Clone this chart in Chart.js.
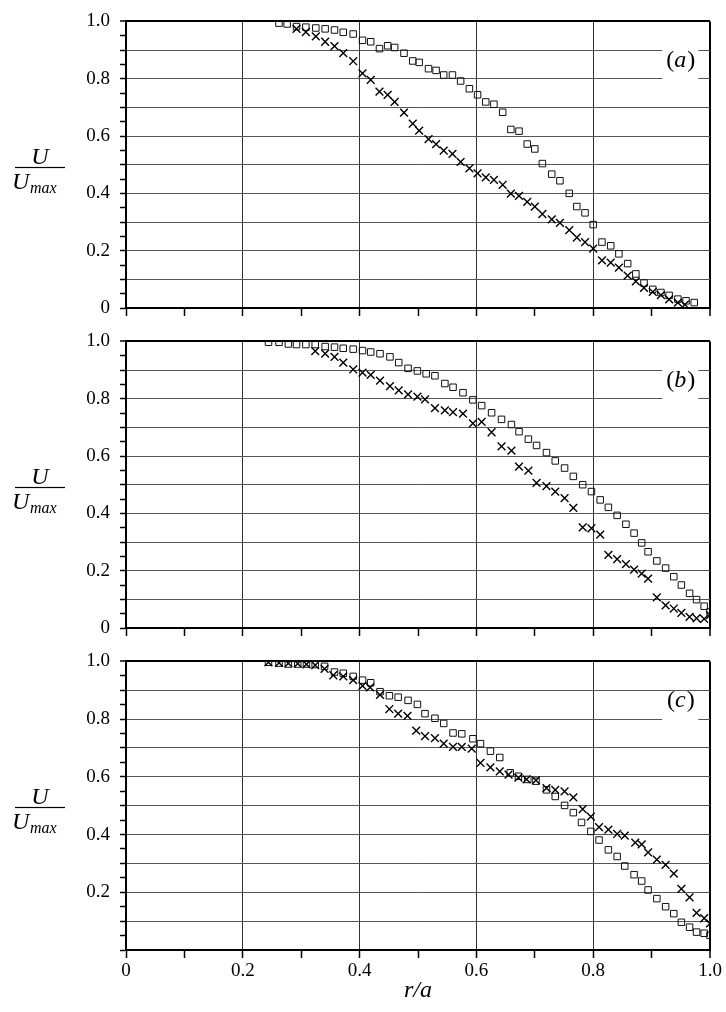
<!DOCTYPE html>
<html>
<head>
<meta charset="utf-8">
<script src="https://cdn.jsdelivr.net/npm/chart.js@4/dist/chart.umd.min.js"></script>
<style>
  body { margin: 0; background: #fff; width: 726px; height: 1012px; position: relative; overflow: hidden; }
  canvas { position: absolute; left: 0; }
</style>
</head>
<body>
<canvas id="panel-a" width="726" height="330" style="top:0px"></canvas>
<canvas id="panel-b" width="726" height="330" style="top:320px"></canvas>
<canvas id="panel-c" width="726" height="372" style="top:640px"></canvas>
<script>
// Velocity profiles U/Umax against r/a.
// Squares and crosses are the two measured series in each panel.

// (a)
const aSquareR = [0.262, 0.276, 0.292, 0.308, 0.325, 0.341, 0.357, 0.372, 0.389, 0.405, 0.419, 0.434, 0.448, 0.460, 0.476, 0.491, 0.502, 0.518, 0.531, 0.544, 0.559, 0.573, 0.588, 0.602, 0.616, 0.630, 0.645, 0.659, 0.673, 0.687, 0.700, 0.713, 0.729, 0.743, 0.759, 0.772, 0.786, 0.800, 0.815, 0.830, 0.844, 0.859, 0.873, 0.887, 0.902, 0.916, 0.930, 0.945, 0.959, 0.973];
const aSquareU = [0.994, 0.991, 0.982, 0.980, 0.977, 0.974, 0.970, 0.962, 0.956, 0.934, 0.929, 0.905, 0.915, 0.909, 0.889, 0.862, 0.857, 0.835, 0.829, 0.813, 0.813, 0.792, 0.765, 0.744, 0.719, 0.711, 0.683, 0.623, 0.617, 0.572, 0.555, 0.504, 0.467, 0.444, 0.400, 0.354, 0.332, 0.291, 0.230, 0.217, 0.189, 0.155, 0.119, 0.087, 0.065, 0.054, 0.044, 0.031, 0.025, 0.019];
const aCrossR = [0.292, 0.308, 0.325, 0.341, 0.357, 0.372, 0.389, 0.405, 0.419, 0.434, 0.448, 0.460, 0.476, 0.491, 0.502, 0.518, 0.531, 0.544, 0.559, 0.573, 0.588, 0.602, 0.616, 0.630, 0.645, 0.659, 0.673, 0.687, 0.700, 0.713, 0.729, 0.743, 0.759, 0.772, 0.786, 0.800, 0.815, 0.830, 0.844, 0.859, 0.873, 0.887, 0.902, 0.916, 0.930, 0.945, 0.957];
const aCrossU = [0.974, 0.963, 0.948, 0.929, 0.914, 0.889, 0.861, 0.819, 0.796, 0.755, 0.744, 0.719, 0.682, 0.643, 0.619, 0.589, 0.572, 0.549, 0.538, 0.510, 0.487, 0.470, 0.456, 0.447, 0.430, 0.399, 0.391, 0.370, 0.354, 0.328, 0.309, 0.297, 0.272, 0.246, 0.230, 0.207, 0.166, 0.158, 0.141, 0.113, 0.093, 0.070, 0.056, 0.045, 0.030, 0.019, 0.012];

// (b)
const bSquareR = [0.244, 0.262, 0.278, 0.292, 0.308, 0.324, 0.341, 0.357, 0.372, 0.389, 0.405, 0.419, 0.435, 0.452, 0.467, 0.483, 0.499, 0.514, 0.529, 0.546, 0.560, 0.577, 0.594, 0.609, 0.626, 0.643, 0.660, 0.673, 0.689, 0.703, 0.720, 0.735, 0.751, 0.766, 0.782, 0.797, 0.812, 0.826, 0.841, 0.856, 0.870, 0.883, 0.894, 0.909, 0.924, 0.938, 0.951, 0.965, 0.977, 0.990, 1.000];
const bSquareU = [0.997, 0.997, 0.991, 0.989, 0.989, 0.989, 0.982, 0.980, 0.976, 0.973, 0.968, 0.963, 0.957, 0.946, 0.926, 0.906, 0.897, 0.887, 0.880, 0.853, 0.840, 0.821, 0.796, 0.776, 0.751, 0.728, 0.710, 0.685, 0.659, 0.637, 0.612, 0.583, 0.558, 0.529, 0.500, 0.476, 0.447, 0.421, 0.393, 0.362, 0.331, 0.297, 0.266, 0.234, 0.209, 0.179, 0.150, 0.121, 0.099, 0.076, 0.056];
const bCrossR = [0.324, 0.341, 0.357, 0.372, 0.389, 0.405, 0.419, 0.435, 0.452, 0.467, 0.483, 0.499, 0.512, 0.529, 0.546, 0.560, 0.577, 0.594, 0.609, 0.626, 0.643, 0.660, 0.673, 0.689, 0.703, 0.720, 0.735, 0.751, 0.766, 0.782, 0.797, 0.812, 0.826, 0.841, 0.856, 0.870, 0.883, 0.894, 0.909, 0.924, 0.938, 0.951, 0.965, 0.977, 0.990, 1.000];
const bCrossU = [0.966, 0.957, 0.946, 0.926, 0.902, 0.891, 0.883, 0.863, 0.844, 0.829, 0.815, 0.807, 0.798, 0.767, 0.759, 0.753, 0.748, 0.714, 0.719, 0.683, 0.634, 0.619, 0.563, 0.549, 0.506, 0.495, 0.476, 0.453, 0.419, 0.351, 0.348, 0.326, 0.255, 0.240, 0.223, 0.204, 0.190, 0.172, 0.107, 0.079, 0.068, 0.053, 0.039, 0.034, 0.032, 0.045];

// (c)
const cSquareR = [0.244, 0.262, 0.278, 0.294, 0.309, 0.324, 0.340, 0.357, 0.372, 0.389, 0.405, 0.419, 0.435, 0.451, 0.466, 0.483, 0.499, 0.512, 0.529, 0.544, 0.560, 0.575, 0.594, 0.607, 0.624, 0.640, 0.658, 0.672, 0.688, 0.702, 0.720, 0.735, 0.751, 0.766, 0.780, 0.796, 0.810, 0.826, 0.841, 0.854, 0.870, 0.883, 0.894, 0.909, 0.924, 0.938, 0.951, 0.965, 0.977, 0.990, 1.000];
const cSquareU = [0.997, 0.994, 0.991, 0.991, 0.991, 0.989, 0.983, 0.963, 0.959, 0.948, 0.935, 0.926, 0.895, 0.881, 0.876, 0.865, 0.851, 0.819, 0.803, 0.785, 0.752, 0.749, 0.732, 0.715, 0.689, 0.667, 0.614, 0.602, 0.591, 0.585, 0.555, 0.532, 0.501, 0.476, 0.442, 0.411, 0.381, 0.347, 0.324, 0.291, 0.261, 0.239, 0.208, 0.178, 0.150, 0.126, 0.096, 0.079, 0.062, 0.058, 0.051];
const cCrossR = [0.244, 0.262, 0.278, 0.294, 0.309, 0.324, 0.340, 0.355, 0.372, 0.389, 0.405, 0.418, 0.435, 0.451, 0.466, 0.482, 0.497, 0.512, 0.529, 0.544, 0.560, 0.575, 0.592, 0.607, 0.624, 0.640, 0.655, 0.672, 0.686, 0.702, 0.720, 0.735, 0.751, 0.766, 0.782, 0.796, 0.810, 0.826, 0.841, 0.854, 0.872, 0.883, 0.894, 0.909, 0.924, 0.938, 0.951, 0.965, 0.977, 0.990, 1.000];
const cCrossU = [0.997, 0.995, 0.993, 0.992, 0.990, 0.987, 0.974, 0.952, 0.948, 0.935, 0.915, 0.910, 0.884, 0.835, 0.819, 0.811, 0.760, 0.741, 0.734, 0.715, 0.704, 0.704, 0.698, 0.648, 0.633, 0.619, 0.608, 0.597, 0.591, 0.588, 0.561, 0.555, 0.550, 0.529, 0.488, 0.462, 0.426, 0.417, 0.402, 0.396, 0.372, 0.366, 0.338, 0.313, 0.295, 0.265, 0.212, 0.182, 0.129, 0.110, 0.092];

const FONT = '"Liberation Serif", "Times New Roman", serif';
const CLEAR = 'rgba(0,0,0,0)';

const toPoints = (rs, us) => rs.map((r, i) => ({ x: r, y: us[i] }));
const onStep = (v, step) => Math.abs(v / step - Math.round(v / step)) < 1e-6;
const fmt = (v) => (Math.abs(v) < 1e-9 ? '0' : v.toFixed(1));

// Panel letter "(a)" on a white patch, plus the U/Umax fraction at the left.
const panelDecor = {
  id: 'panelDecor',
  afterDatasetsDraw(chart, args, opts) {
    const { ctx, chartArea } = chart;
    const top = chartArea.top;
    const xs = chart.scales.x;
    ctx.save();

    const bx0 = xs.getPixelForValue(0.918);
    const bx1 = xs.getPixelForValue(0.98);
    ctx.fillStyle = '#fff';
    ctx.fillRect(bx0, top + opts.boxTop, bx1 - bx0, 61 - opts.boxTop);

    const upright = `24px ${FONT}`;
    const italic = `italic 24px ${FONT}`;
    ctx.fillStyle = '#000';
    ctx.textBaseline = 'alphabetic';
    ctx.textAlign = 'left';
    ctx.font = upright;
    const wOpen = ctx.measureText('(').width;
    const wClose = ctx.measureText(')').width;
    ctx.font = italic;
    const wLetter = ctx.measureText(opts.letter).width + 1;
    let cx = xs.getPixelForValue(0.95) - (wOpen + wLetter + wClose) / 2;
    const by = top + 46;
    ctx.font = upright;
    ctx.fillText('(', cx, by);
    cx += wOpen;
    ctx.font = italic;
    ctx.fillText(opts.letter, cx, by);
    cx += wLetter;
    ctx.font = upright;
    ctx.fillText(')', cx, by);

    // U / U_max
    ctx.font = italic;
    ctx.textAlign = 'center';
    ctx.fillText('U', 40, top + 143);
    ctx.fillRect(15, top + 145.5, 50, 1.2);
    ctx.textAlign = 'left';
    ctx.fillText('U', 12, top + 167.5);
    ctx.font = `italic 16px ${FONT}`;
    ctx.fillText('max', 30, top + 172);
    ctx.restore();
  },
};

function makePanel(id, squares, crosses, letter, boxTop, isBottom) {
  return new Chart(document.getElementById(id), {
    type: 'scatter',
    data: {
      datasets: [
        {
          data: crosses,
          pointStyle: 'crossRot',
          pointRadius: 5.5,
          borderColor: '#000',
          borderWidth: 1.4,
          backgroundColor: CLEAR,
        },
        {
          data: squares,
          pointStyle: 'rect',
          pointRadius: 4.6,
          borderColor: '#111',
          borderWidth: 1,
          backgroundColor: CLEAR,
        },
      ],
    },
    options: {
      responsive: false,
      animation: false,
      layout: { padding: { top: 14, right: 16, left: 0, bottom: isBottom ? 7 : 0 } },
      plugins: {
        legend: { display: false },
        tooltip: { enabled: false },
        panelDecor: { letter, boxTop },
      },
      scales: {
        x: {
          type: 'linear',
          min: 0,
          max: 1,
          afterFit: (s) => { s.height = isBottom ? 55 : 22; },
          border: { color: '#000', width: 2 },
          grid: {
            color: (c) => {
              const v = c.tick.value;
              if (v > 0.999) return '#000';
              return v > 0 && onStep(v, 0.2) ? '#333' : CLEAR;
            },
            lineWidth: (c) => (c.tick.value > 0.999 ? 2 : 1),
            tickColor: '#000',
            tickLength: 8,
            tickWidth: 1.5,
          },
          ticks: {
            stepSize: 0.1,
            autoSkip: false,
            maxRotation: 0,
            display: isBottom,
            padding: 2,
            color: '#000',
            font: { family: FONT, size: 19 },
            callback: (v) => (onStep(v, 0.2) ? fmt(v) : ''),
          },
          title: {
            display: isBottom,
            text: 'r/a',
            color: '#000',
            font: { family: FONT, size: 24, style: 'italic' },
            padding: { top: 0, bottom: 0 },
          },
        },
        y: {
          min: 0,
          max: 1,
          afterFit: (s) => { s.width = 126; },
          border: { color: '#000', width: 2 },
          grid: {
            color: (c) => {
              const v = c.tick.value;
              if (v > 0.999) return '#000';
              return v > 0 && onStep(v, 0.1) ? '#555' : CLEAR;
            },
            lineWidth: (c) => (c.tick.value > 0.999 ? 2 : 1),
            tickColor: '#000',
            tickLength: 6,
            tickWidth: 1.5,
          },
          ticks: {
            stepSize: 0.05,
            autoSkip: false,
            padding: 10,
            color: '#000',
            font: { family: FONT, size: 19 },
            callback: (v) => {
              if (!onStep(v, 0.2)) return '';
              if (isBottom && v < 0.01) return '';
              return fmt(v);
            },
          },
        },
      },
    },
    plugins: [panelDecor],
  });
}

makePanel('panel-a', toPoints(aSquareR, aSquareU), toPoints(aCrossR, aCrossU), 'a', 26, false);
makePanel('panel-b', toPoints(bSquareR, bSquareU), toPoints(bCrossR, bCrossU), 'b', 26, false);
makePanel('panel-c', toPoints(cSquareR, cSquareU), toPoints(cCrossR, cCrossU), 'c', 31, true);
</script>
</body>
</html>
